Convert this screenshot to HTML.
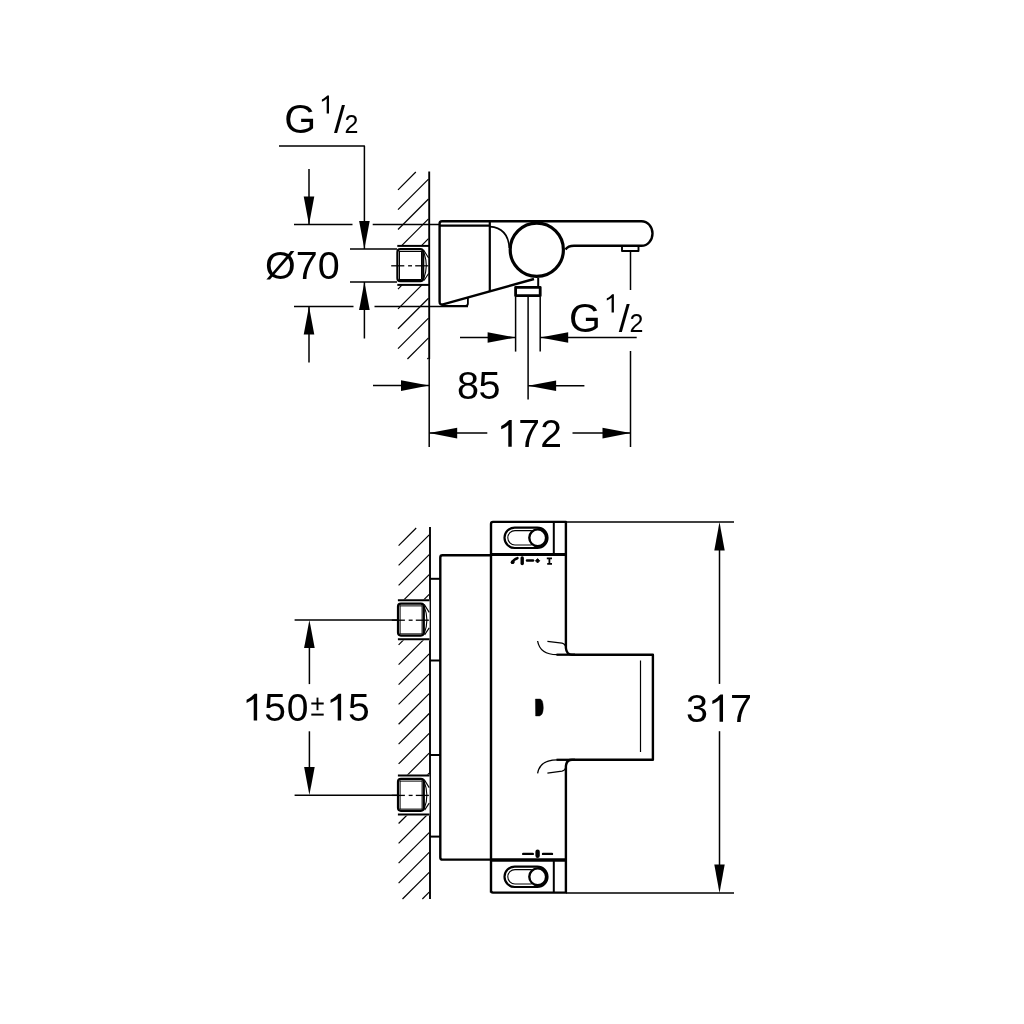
<!DOCTYPE html>
<html><head><meta charset="utf-8"><style>
html,body{margin:0;padding:0;background:#fff;}
svg{display:block;will-change:transform;}
text{font-family:"Liberation Sans",sans-serif;fill:#000;stroke:none;}
</style></head><body>
<svg width="1024" height="1024" viewBox="0 0 1024 1024" stroke="#000" fill="none" stroke-linecap="butt" stroke-linejoin="round">
<rect x="0" y="0" width="1024" height="1024" fill="#fff" stroke="none"/>
<text x="284.14" y="132.6" font-size="41" >G</text>
<path d="M763,0 L583,0 L583,1147 C538,1104 479,1061 406,1018 C333,975 267,943 209,921 L209,1095 C310,1142 398,1199 473,1266 C548,1333 601,1381 632,1409 L763,1409 Z" transform="translate(319.20,113.50) scale(0.01284,-0.01284)" fill="#000" stroke="none"/>
<text x="333.9" y="133.0" font-size="39.5" >/</text>
<text x="344.6" y="133.0" font-size="25" >2</text>
<text x="569.04" y="331.5" font-size="41" >G</text>
<path d="M763,0 L583,0 L583,1147 C538,1104 479,1061 406,1018 C333,975 267,943 209,921 L209,1095 C310,1142 398,1199 473,1266 C548,1333 601,1381 632,1409 L763,1409 Z" transform="translate(604.10,312.40) scale(0.01284,-0.01284)" fill="#000" stroke="none"/>
<text x="618.8" y="331.9" font-size="39.5" >/</text>
<text x="629.5" y="331.9" font-size="25" >2</text>
<text x="265.0" y="279.0" font-size="39.5" >Ø70</text>
<text x="457.0" y="399.4" font-size="39.6" >8</text>
<text x="478.6" y="399.4" font-size="39.6" >5</text>
<path d="M763,0 L583,0 L583,1147 C538,1104 479,1061 406,1018 C333,975 267,943 209,921 L209,1095 C310,1142 398,1199 473,1266 C548,1333 601,1381 632,1409 L763,1409 Z" transform="translate(497.20,446.80) scale(0.01904,-0.01904)" fill="#000" stroke="none"/>
<text x="518.2" y="446.8" font-size="39" >7</text>
<text x="540.2" y="446.8" font-size="39" >2</text>
<path d="M279,146 H364.4 V249" stroke-width="1.5" fill="none" />
<polygon points="364.40,249.00 359.10,221.00 369.70,221.00" fill="#000" stroke="none"/>
<line x1="364.4" y1="282" x2="364.4" y2="338.5" stroke-width="1.5" />
<polygon points="364.40,282.00 359.10,310.00 369.70,310.00" fill="#000" stroke="none"/>
<line x1="309" y1="169" x2="309" y2="224" stroke-width="1.5" />
<polygon points="309.00,224.40 303.70,196.40 314.30,196.40" fill="#000" stroke="none"/>
<line x1="309" y1="306.4" x2="309" y2="362.5" stroke-width="1.5" />
<polygon points="309.00,306.40 303.70,334.40 314.30,334.40" fill="#000" stroke="none"/>
<line x1="294" y1="224.4" x2="352.5" y2="224.4" stroke-width="1.5" />
<line x1="372.7" y1="224.4" x2="440" y2="224.4" stroke-width="1.5" />
<line x1="294" y1="306.4" x2="353.5" y2="306.4" stroke-width="1.5" />
<line x1="374.5" y1="306.4" x2="468" y2="306.4" stroke-width="1.5" />
<line x1="350" y1="249.1" x2="397" y2="249.1" stroke-width="1.5" />
<line x1="350" y1="281.9" x2="397" y2="281.9" stroke-width="1.5" />
<line x1="429.2" y1="171.5" x2="429.2" y2="359" stroke-width="1.9" />
<line x1="429.2" y1="359" x2="429.2" y2="447" stroke-width="1.5" />
<line x1="398.00" y1="189.80" x2="415.80" y2="172.00" stroke-width="1.2" />
<line x1="398.00" y1="209.65" x2="428.50" y2="179.15" stroke-width="1.2" />
<line x1="398.00" y1="229.50" x2="428.50" y2="199.00" stroke-width="1.2" />
<line x1="401.45" y1="245.90" x2="428.50" y2="218.85" stroke-width="1.2" />
<line x1="421.30" y1="245.90" x2="428.50" y2="238.70" stroke-width="1.2" />
<line x1="398.00" y1="289.05" x2="402.15" y2="284.90" stroke-width="1.2" />
<line x1="398.00" y1="308.90" x2="422.00" y2="284.90" stroke-width="1.2" />
<line x1="398.00" y1="328.75" x2="428.50" y2="298.25" stroke-width="1.2" />
<line x1="398.00" y1="348.60" x2="428.50" y2="318.10" stroke-width="1.2" />
<line x1="407.45" y1="359.00" x2="428.50" y2="337.95" stroke-width="1.2" />
<line x1="427.30" y1="359.00" x2="428.50" y2="357.80" stroke-width="1.2" />
<g transform="translate(0,0)">
<line x1="397.3" y1="245.9" x2="429" y2="245.9" stroke-width="2.0" />
<line x1="397.3" y1="284.9" x2="429" y2="284.9" stroke-width="2.0" />
<rect x="397.4" y="249.2" width="25.8" height="32" rx="3" stroke-width="2.2" fill="#fff"/>
<line x1="399" y1="251.5" x2="421.5" y2="251.5" stroke-width="1.0" />
<line x1="399" y1="279.5" x2="421.5" y2="279.5" stroke-width="1.0" />
<line x1="399.5" y1="251" x2="399.5" y2="279.5" stroke-width="1.0" />
<line x1="421.5" y1="251" x2="421.5" y2="279.5" stroke-width="1.0" />
<path d="M423.6,252 Q429,265.6 423.6,279.2" stroke-width="1.1" fill="none" />
<path d="M423.6,250 L428.6,258 M428.6,273.5 L424,280.5" stroke-width="1.1" fill="none" />
</g>
<line x1="391.2" y1="265.8" x2="404.3" y2="265.8" stroke-width="1.3" />
<line x1="408.1" y1="265.8" x2="412" y2="265.8" stroke-width="1.3" />
<line x1="415.2" y1="265.8" x2="428.3" y2="265.8" stroke-width="1.3" />
<path d="M534,279 L443,304.3 Q439.6,305.2 439.6,301.8 V223.5 Q439.6,221.2 442,221.2 H641.5 A11,12.3 0 0 1 641.5,245.8 H574 Q568,245.8 565.5,249.5" stroke-width="2.4" fill="none" />
<line x1="439.6" y1="225.6" x2="489.8" y2="225.6" stroke-width="2.2" />
<line x1="489.8" y1="221.2" x2="489.8" y2="291.5" stroke-width="2.2" />
<path d="M489.8,226.6 C502,227.5 508.5,234 509.3,248" stroke-width="1.6" fill="none" />
<path d="M467.9,298 V303.5 Q467.9,305.8 465.5,305.8 H441.5" stroke-width="1.8" fill="none" />
<circle cx="536.8" cy="249.8" r="26.6" stroke-width="3.2" fill="#fff"/>
<rect x="622" y="246" width="16.5" height="5" stroke-width="1.9" fill="#fff"/>
<line x1="630.5" y1="251" x2="630.5" y2="290" stroke-width="1.5" />
<line x1="630.5" y1="351" x2="630.5" y2="447" stroke-width="1.5" />
<line x1="538.2" y1="278" x2="538.2" y2="286" stroke-width="2.0" />
<rect x="515.6" y="287.3" width="24.6" height="8.4" stroke-width="2.8" fill="#fff"/>
<line x1="515.6" y1="297" x2="515.6" y2="351.6" stroke-width="1.5" />
<line x1="528.1" y1="297" x2="528.1" y2="399.5" stroke-width="1.5" />
<line x1="540.2" y1="297" x2="540.2" y2="351.6" stroke-width="1.5" />
<line x1="540.2" y1="337.5" x2="636.7" y2="337.5" stroke-width="1.5" />
<polygon points="540.20,337.50 568.20,332.20 568.20,342.80" fill="#000" stroke="none"/>
<line x1="460" y1="337.5" x2="515.6" y2="337.5" stroke-width="1.5" />
<polygon points="515.60,337.50 487.60,332.20 487.60,342.80" fill="#000" stroke="none"/>
<line x1="373" y1="385.6" x2="429" y2="385.6" stroke-width="1.5" />
<polygon points="429.00,385.60 401.00,380.30 401.00,390.90" fill="#000" stroke="none"/>
<line x1="528.1" y1="385.8" x2="584.4" y2="385.8" stroke-width="1.5" />
<polygon points="528.10,385.80 556.10,380.50 556.10,391.10" fill="#000" stroke="none"/>
<line x1="429.2" y1="433.1" x2="487.3" y2="433.1" stroke-width="1.5" />
<polygon points="429.20,433.10 457.20,427.80 457.20,438.40" fill="#000" stroke="none"/>
<line x1="572.5" y1="433.1" x2="630.5" y2="433.1" stroke-width="1.5" />
<polygon points="630.50,433.10 602.50,427.80 602.50,438.40" fill="#000" stroke="none"/>
<line x1="430" y1="527" x2="430" y2="899" stroke-width="1.9" />
<line x1="398.60" y1="545.60" x2="416.20" y2="528.00" stroke-width="1.2" />
<line x1="398.60" y1="565.45" x2="429.20" y2="534.85" stroke-width="1.2" />
<line x1="398.60" y1="585.30" x2="429.20" y2="554.70" stroke-width="1.2" />
<line x1="398.60" y1="605.15" x2="429.20" y2="574.55" stroke-width="1.2" />
<line x1="398.60" y1="625.00" x2="429.20" y2="594.40" stroke-width="1.2" />
<line x1="398.60" y1="644.85" x2="429.20" y2="614.25" stroke-width="1.2" />
<line x1="398.60" y1="664.70" x2="429.20" y2="634.10" stroke-width="1.2" />
<line x1="398.60" y1="684.55" x2="429.20" y2="653.95" stroke-width="1.2" />
<line x1="398.60" y1="704.40" x2="429.20" y2="673.80" stroke-width="1.2" />
<line x1="398.60" y1="724.25" x2="429.20" y2="693.65" stroke-width="1.2" />
<line x1="398.60" y1="744.10" x2="429.20" y2="713.50" stroke-width="1.2" />
<line x1="398.60" y1="763.95" x2="429.20" y2="733.35" stroke-width="1.2" />
<line x1="398.60" y1="783.80" x2="429.20" y2="753.20" stroke-width="1.2" />
<line x1="398.60" y1="803.65" x2="429.20" y2="773.05" stroke-width="1.2" />
<line x1="398.60" y1="823.50" x2="429.20" y2="792.90" stroke-width="1.2" />
<line x1="398.60" y1="843.35" x2="429.20" y2="812.75" stroke-width="1.2" />
<line x1="398.60" y1="863.20" x2="429.20" y2="832.60" stroke-width="1.2" />
<line x1="398.60" y1="883.05" x2="429.20" y2="852.45" stroke-width="1.2" />
<line x1="402.50" y1="899.00" x2="429.20" y2="872.30" stroke-width="1.2" />
<line x1="422.35" y1="899.00" x2="429.20" y2="892.15" stroke-width="1.2" />
<g transform="translate(0.6,354.4)">
<rect x="396" y="245" width="33" height="41" fill="#fff" stroke="none"/>
<line x1="397.3" y1="245.9" x2="429" y2="245.9" stroke-width="2.0" />
<line x1="397.3" y1="284.9" x2="429" y2="284.9" stroke-width="2.0" />
<rect x="397.4" y="249.2" width="25.8" height="32" rx="3" stroke-width="2.2" fill="#fff"/>
<line x1="399" y1="251.5" x2="421.5" y2="251.5" stroke-width="1.0" />
<line x1="399" y1="279.5" x2="421.5" y2="279.5" stroke-width="1.0" />
<line x1="399.5" y1="251" x2="399.5" y2="279.5" stroke-width="1.0" />
<line x1="421.5" y1="251" x2="421.5" y2="279.5" stroke-width="1.0" />
<path d="M423.6,252 Q429,265.6 423.6,279.2" stroke-width="1.1" fill="none" />
<path d="M423.6,250 L428.6,258 M428.6,273.5 L424,280.5" stroke-width="1.1" fill="none" />
<line x1="391.2" y1="265.8" x2="404.3" y2="265.8" stroke-width="1.3" />
<line x1="408.1" y1="265.8" x2="412" y2="265.8" stroke-width="1.3" />
<line x1="415.2" y1="265.8" x2="428.3" y2="265.8" stroke-width="1.3" />
</g>
<g transform="translate(0.6,529.6)">
<rect x="396" y="245" width="33" height="41" fill="#fff" stroke="none"/>
<line x1="397.3" y1="245.9" x2="429" y2="245.9" stroke-width="2.0" />
<line x1="397.3" y1="284.9" x2="429" y2="284.9" stroke-width="2.0" />
<rect x="397.4" y="249.2" width="25.8" height="32" rx="3" stroke-width="2.2" fill="#fff"/>
<line x1="399" y1="251.5" x2="421.5" y2="251.5" stroke-width="1.0" />
<line x1="399" y1="279.5" x2="421.5" y2="279.5" stroke-width="1.0" />
<line x1="399.5" y1="251" x2="399.5" y2="279.5" stroke-width="1.0" />
<line x1="421.5" y1="251" x2="421.5" y2="279.5" stroke-width="1.0" />
<path d="M423.6,252 Q429,265.6 423.6,279.2" stroke-width="1.1" fill="none" />
<path d="M423.6,250 L428.6,258 M428.6,273.5 L424,280.5" stroke-width="1.1" fill="none" />
<line x1="391.2" y1="265.8" x2="404.3" y2="265.8" stroke-width="1.3" />
<line x1="408.1" y1="265.8" x2="412" y2="265.8" stroke-width="1.3" />
<line x1="415.2" y1="265.8" x2="428.3" y2="265.8" stroke-width="1.3" />
</g>
<line x1="294.6" y1="619.9" x2="397.5" y2="619.9" stroke-width="1.5" />
<line x1="294.6" y1="795.2" x2="397.5" y2="795.2" stroke-width="1.5" />
<line x1="309.4" y1="648" x2="309.4" y2="684.1" stroke-width="1.5" />
<polygon points="309.40,620.00 304.10,648.00 314.70,648.00" fill="#000" stroke="none"/>
<line x1="309.4" y1="731.3" x2="309.4" y2="767" stroke-width="1.5" />
<polygon points="309.40,795.00 304.10,767.00 314.70,767.00" fill="#000" stroke="none"/>
<path d="M763,0 L583,0 L583,1147 C538,1104 479,1061 406,1018 C333,975 267,943 209,921 L209,1095 C310,1142 398,1199 473,1266 C548,1333 601,1381 632,1409 L763,1409 Z" transform="translate(242.60,720.50) scale(0.01904,-0.01904)" fill="#000" stroke="none"/>
<text x="264.3" y="720.5" font-size="39" >5</text>
<text x="286.7" y="720.5" font-size="39" >0</text>
<path d="M763,0 L583,0 L583,1147 C538,1104 479,1061 406,1018 C333,975 267,943 209,921 L209,1095 C310,1142 398,1199 473,1266 C548,1333 601,1381 632,1409 L763,1409 Z" transform="translate(326.60,720.50) scale(0.01904,-0.01904)" fill="#000" stroke="none"/>
<text x="348" y="720.5" font-size="39" >5</text>
<line x1="311.3" y1="703.5" x2="323.7" y2="703.5" stroke-width="2.0" />
<line x1="317.5" y1="697.6" x2="317.5" y2="710.2" stroke-width="1.9" />
<line x1="311.3" y1="714.6" x2="323.7" y2="714.6" stroke-width="2.0" />
<path d="M491,555.2 H442.5 Q440.3,555.2 440.3,557.4 V857.4 Q440.3,859.6 442.5,859.6 H491" stroke-width="2.4" fill="none" />
<line x1="430" y1="578.8" x2="440.3" y2="578.8" stroke-width="2.0" />
<line x1="430" y1="660.5" x2="440.3" y2="660.5" stroke-width="2.0" />
<line x1="430" y1="755" x2="440.3" y2="755" stroke-width="2.0" />
<line x1="430" y1="836.6" x2="440.3" y2="836.6" stroke-width="2.0" />
<path d="M491,892.6 V523.9 Q491,521.9 493,521.9 H565.9 V648 Q566.5,654.7 572,654.7 H652.9 V759.8 H572 Q566.5,759.8 565.9,766 V892.6 H493 Q491,892.6 491,890.6" stroke-width="2.4" fill="none" />
<line x1="491" y1="554.6" x2="565.9" y2="554.6" stroke-width="3.0" />
<line x1="491" y1="860.1" x2="565.9" y2="860.1" stroke-width="3.5" />
<line x1="553.8" y1="522" x2="553.8" y2="554" stroke-width="2.0" />
<line x1="553.8" y1="860" x2="553.8" y2="892.6" stroke-width="2.0" />
<line x1="640.5" y1="660.5" x2="640.5" y2="752" stroke-width="1.2" />
<path d="M537.6,641 Q540,654.7 557,654.7" stroke-width="1.3" fill="none" />
<line x1="556.5" y1="654.7" x2="575" y2="654.7" stroke-width="2.3" />
<path d="M547.4,641.4 L562,643.2 Q565.5,644 566,648" stroke-width="1.3" fill="none" />
<path d="M537.6,773.4 Q540,759.8 557,759.8" stroke-width="1.3" fill="none" />
<line x1="556.5" y1="759.8" x2="575" y2="759.8" stroke-width="2.3" />
<path d="M547.4,773.2 L562,771.2 Q565.5,770.5 566,766" stroke-width="1.3" fill="none" />
<rect x="504.5" y="527.5999999999999" width="43" height="20.4" rx="10.2" stroke-width="2.2" fill="#fff"/>
<rect x="507.8" y="530.5999999999999" width="30" height="14.4" rx="7.2" stroke-width="1.1" fill="none"/>
<circle cx="537.7" cy="537.8" r="8.4" stroke-width="2.4" fill="#fff"/>
<rect x="504.5" y="866.5999999999999" width="43" height="20.4" rx="10.2" stroke-width="2.2" fill="#fff"/>
<rect x="507.8" y="869.5999999999999" width="30" height="14.4" rx="7.2" stroke-width="1.1" fill="none"/>
<circle cx="537.7" cy="876.8" r="8.4" stroke-width="2.4" fill="#fff"/>
<line x1="566" y1="522.1" x2="734" y2="522.1" stroke-width="1.5" />
<line x1="566" y1="893" x2="734" y2="893" stroke-width="1.5" />
<line x1="719.5" y1="550" x2="719.5" y2="683.9" stroke-width="1.5" />
<polygon points="719.50,522.10 714.30,550.60 724.70,550.60" fill="#000" stroke="none"/>
<line x1="719.5" y1="731.2" x2="719.5" y2="865" stroke-width="1.5" />
<polygon points="719.50,893.00 714.30,864.50 724.70,864.50" fill="#000" stroke="none"/>
<text x="686.1" y="721.8" font-size="39.5" >3</text>
<path d="M763,0 L583,0 L583,1147 C538,1104 479,1061 406,1018 C333,975 267,943 209,921 L209,1095 C310,1142 398,1199 473,1266 C548,1333 601,1381 632,1409 L763,1409 Z" transform="translate(708.30,721.80) scale(0.01929,-0.01929)" fill="#000" stroke="none"/>
<text x="729.95" y="721.8" font-size="39.5" >7</text>
<path d="M535.4,699 H540.5 Q542.8,700.3 543,704 Q543.6,707.5 543,711 Q542.6,715 539.5,716 H535.6 Z" stroke-width="0.4" fill="#000" />
<path d="M512.3,562.6 Q513.6,559.2 517.4,558.2" stroke-width="2.6" fill="none" stroke-linecap="round"/>
<circle cx="512.6" cy="562.2" r="1.9" fill="#000" stroke="none"/>
<line x1="522.2" y1="558" x2="522.2" y2="563.6" stroke-width="3.4" stroke-linecap="round"/>
<line x1="527" y1="560.6" x2="533" y2="560.6" stroke-width="2.5" stroke-linecap="round"/>
<path d="M535.4,560.8 L537.6,558.6 L539.8,560.8 L537.6,563 Z" stroke-width="0.8" fill="#000" />
<path d="M546.8,558.3 H552 M547.2,563.8 H552 M549.4,558 V564" stroke-width="1.8" fill="none" />
<line x1="523.2" y1="853.9" x2="532.8" y2="853.9" stroke-width="2.4" stroke-linecap="round"/>
<line x1="543" y1="853.9" x2="552" y2="853.9" stroke-width="2.4" stroke-linecap="round"/>
<line x1="537.6" y1="851.8" x2="537.6" y2="855.8" stroke-width="4.4" stroke-linecap="round"/>
</svg></body></html>
